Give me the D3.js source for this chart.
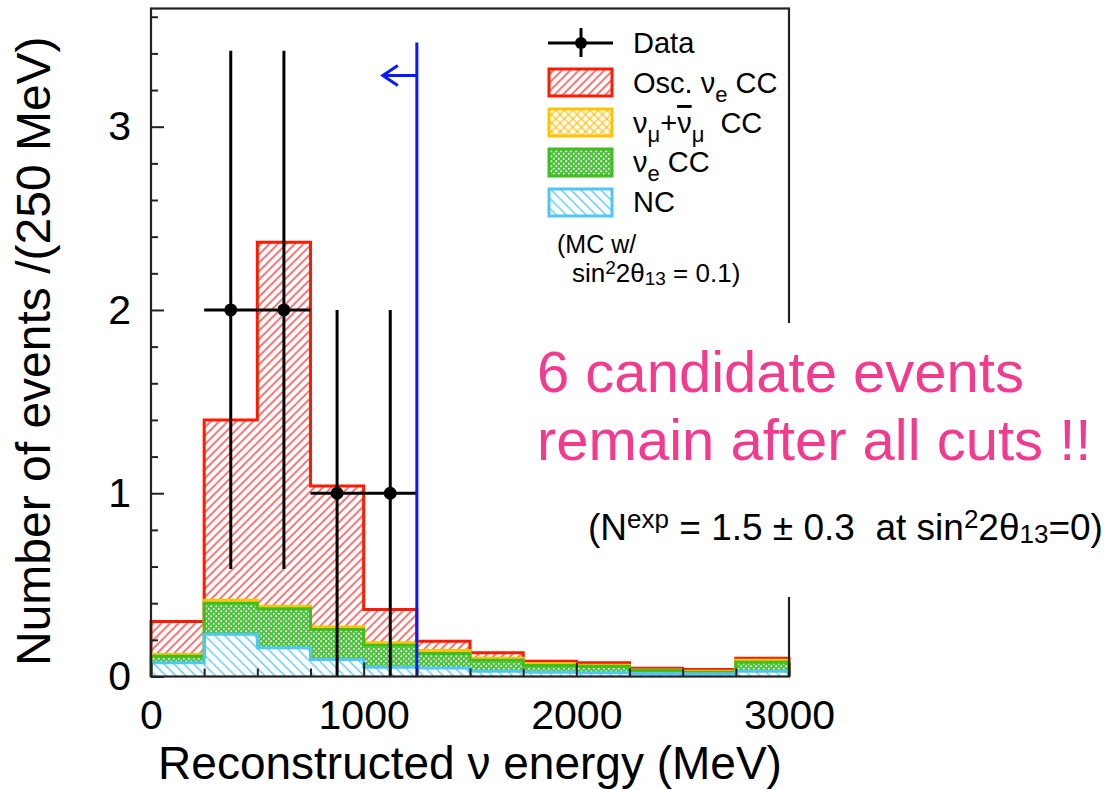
<!DOCTYPE html>
<html>
<head>
<meta charset="utf-8">
<script src="https://cdn.jsdelivr.net/npm/d3@7"></script>
<style>
  html, body { margin: 0; padding: 0; background: #fff; }
  svg { display: block; font-family: "Liberation Sans", Arial, Helvetica, sans-serif; }
</style>
</head>
<body>
<svg id="chart" width="1117" height="790"></svg>
<script>
// ---------------- data ----------------
const binEdges = [0, 250, 500, 750, 1000, 1250, 1500, 1750, 2000, 2250, 2500, 2750, 3000];
const ncValues     = [0.075, 0.230, 0.157, 0.093, 0.050, 0.047, 0.029, 0.023, 0.020, 0.016, 0.015, 0.029];
const nueCCValues  = [0.035, 0.170, 0.213, 0.163, 0.120, 0.078, 0.060, 0.037, 0.036, 0.017, 0.008, 0.049];
const numuCCValues = [0.010, 0.016, 0.014, 0.014, 0.014, 0.017, 0.011, 0.011, 0.006, 0.003, 0.006, 0.011];
const oscNueValues = [0.180, 0.984, 1.986, 0.770, 0.182, 0.051, 0.029, 0.012, 0.013, 0.009, 0.009, 0.011];
const dataCenters  = [375, 625, 875, 1125];
const dataCounts   = [2, 2, 1, 1];
const dataErrors   = [1.414, 1.414, 1, 1];
const dataHalfWidth = 125;
const cutEnergy = 1250, cutTop = 3.46, arrowLevel = 3.28, arrowTip = 1090;
const xTickValues = [0, 1000, 2000, 3000];
const xMinorTicks = [250, 500, 750, 1250, 1500, 1750, 2250, 2500, 2750];
const yTickValues = [0, 1, 2, 3];
const yMinorTicks = [0.2,0.4,0.6,0.8,1.2,1.4,1.6,1.8,2.2,2.4,2.6,2.8,3.2,3.4,3.6];

// ---------------- setup ----------------
const svg = d3.select("#chart");
const W = 1117, H = 790;
const x = d3.scaleLinear().domain([0, 3000]).range([151, 789]);
const y = d3.scaleLinear().domain([0, 3.645]).range([676.5, 8.5]);

const defs = svg.append("defs");
// Osc nu_e CC : red "/" hatch
let p = defs.append("pattern").attr("id","pOsc").attr("patternUnits","userSpaceOnUse")
  .attr("width",6).attr("height",6).attr("patternTransform","rotate(45)");
p.append("rect").attr("width",6).attr("height",6).attr("fill","#fff");
p.append("line").attr("x1",3).attr("y1",-1).attr("x2",3).attr("y2",7).attr("stroke","#ff3b3b").attr("stroke-width",1.4);
// numu CC : yellow crosshatch
p = defs.append("pattern").attr("id","pNumu").attr("patternUnits","userSpaceOnUse")
  .attr("width",6).attr("height",6).attr("patternTransform","rotate(45)");
p.append("rect").attr("width",6).attr("height",6).attr("fill","#fff");
p.append("line").attr("x1",3).attr("y1",-1).attr("x2",3).attr("y2",7).attr("stroke","#ffc21a").attr("stroke-width",1.3);
p.append("line").attr("x1",-1).attr("y1",3).attr("x2",7).attr("y2",3).attr("stroke","#ffc21a").attr("stroke-width",1.3);
// nue CC : green with white dots
p = defs.append("pattern").attr("id","pNue").attr("patternUnits","userSpaceOnUse")
  .attr("width",5).attr("height",5);
p.append("rect").attr("width",5).attr("height",5).attr("fill","#4cc23c");
p.append("circle").attr("cx",1.25).attr("cy",1.25).attr("r",0.95).attr("fill","#fff");
p.append("circle").attr("cx",3.75).attr("cy",3.75).attr("r",0.95).attr("fill","#fff");
// NC : cyan "\" hatch
p = defs.append("pattern").attr("id","pNC").attr("patternUnits","userSpaceOnUse")
  .attr("width",7).attr("height",7).attr("patternTransform","rotate(-45)");
p.append("rect").attr("width",7).attr("height",7).attr("fill","#fff");
p.append("line").attr("x1",3.5).attr("y1",-1).attr("x2",3.5).attr("y2",8).attr("stroke","#5cc8f2").attr("stroke-width",1.4);

// ---------------- stacked histogram ----------------
const layers = [
  {key:"nc",   values: ncValues,     fill:"url(#pNC)",   stroke:"#4fc6f4"},
  {key:"nue",  values: nueCCValues,  fill:"url(#pNue)",  stroke:"#3fbf1f"},
  {key:"numu", values: numuCCValues, fill:"url(#pNumu)", stroke:"#ffc400"},
  {key:"osc",  values: oscNueValues, fill:"url(#pOsc)",  stroke:"#ff1a00"}
];
let cum = binEdges.slice(0,-1).map(() => 0);
layers.forEach(L => {
  L.lo = cum.slice();
  L.hi = cum.map((c,i) => c + L.values[i]);
  cum = L.hi;
});

function bandPath(lo, hi) {
  let d = "M" + x(binEdges[0]) + "," + y(lo[0]);
  for (let i = 0; i < hi.length; i++) {
    d += "V" + y(hi[i]) + "H" + x(binEdges[i+1]);
  }
  for (let i = lo.length - 1; i >= 0; i--) {
    d += "V" + y(lo[i]) + "H" + x(binEdges[i]);
  }
  return d + "Z";
}
function stepPath(hi) {
  let d = "M" + x(binEdges[0]) + "," + y(0);
  for (let i = 0; i < hi.length; i++) {
    d += "V" + y(hi[i]) + "H" + x(binEdges[i+1]);
  }
  return d + "V" + y(0);
}
const histG = svg.append("g");
layers.forEach(L => {
  histG.append("path").attr("d", bandPath(L.lo, L.hi)).attr("fill", L.fill).attr("stroke","none");
});
[...layers].reverse().forEach(L => {
  histG.append("path").attr("d", stepPath(L.hi)).attr("fill","none")
    .attr("stroke", L.stroke).attr("stroke-width", 3);
});

// ---------------- data points ----------------
const dataG = svg.append("g");
dataCenters.forEach((c,i) => {
  const v = dataCounts[i], e = dataErrors[i];
  dataG.append("line").attr("x1", x(c)).attr("x2", x(c))
    .attr("y1", y(Math.max(0, v - e))).attr("y2", y(v + e))
    .attr("stroke","#000").attr("stroke-width",3);
  dataG.append("line").attr("x1", x(c - dataHalfWidth)).attr("x2", x(c + dataHalfWidth))
    .attr("y1", y(v)).attr("y2", y(v)).attr("stroke","#000").attr("stroke-width",3);
  dataG.append("circle").attr("cx", x(c)).attr("cy", y(v)).attr("r", 6.5).attr("fill","#000");
});

// ---------------- cut line + arrow ----------------
svg.append("line").attr("x1", x(cutEnergy)).attr("x2", x(cutEnergy))
  .attr("y1", y(cutTop)).attr("y2", y(0)).attr("stroke","#0a1aff").attr("stroke-width",3);
svg.append("line").attr("x1", x(cutEnergy)).attr("x2", x(arrowTip))
  .attr("y1", y(arrowLevel)).attr("y2", y(arrowLevel)).attr("stroke","#0a1aff").attr("stroke-width",3);
svg.append("path")
  .attr("d", `M${x(arrowTip)+15},${y(arrowLevel)-10}L${x(arrowTip)},${y(arrowLevel)}L${x(arrowTip)+15},${y(arrowLevel)+10}`)
  .attr("fill","none").attr("stroke","#0a1aff").attr("stroke-width",3).attr("stroke-linejoin","miter");

// ---------------- frame & axes ----------------
svg.append("rect").attr("x", x(0)).attr("y", y(3.645)).attr("width", x(3000)-x(0)).attr("height", y(0)-y(3.645))
  .attr("fill","none").attr("stroke","#222").attr("stroke-width",2.2);

const yAxis = svg.append("g").attr("transform", `translate(${x(0)},0)`)
  .call(d3.axisLeft(y).tickValues(yTickValues).tickFormat(d3.format("d")).tickSizeInner(-13).tickSizeOuter(0).tickPadding(20));
const yMinor = svg.append("g").attr("transform", `translate(${x(0)},0)`)
  .call(d3.axisLeft(y).tickValues(yMinorTicks).tickFormat("").tickSizeInner(-7).tickSizeOuter(0));
const xAxis = svg.append("g").attr("transform", `translate(0,${y(0)})`)
  .call(d3.axisBottom(x).tickValues(xTickValues).tickFormat(d3.format("d")).tickSizeInner(-14).tickSizeOuter(0).tickPadding(23));
const xMinor = svg.append("g").attr("transform", `translate(0,${y(0)})`)
  .call(d3.axisBottom(x).tickValues(xMinorTicks).tickFormat("").tickSizeInner(-8).tickSizeOuter(0));
[yAxis, yMinor, xAxis, xMinor].forEach(g => {
  g.select(".domain").remove();
  g.selectAll(".tick line").attr("stroke","#222").attr("stroke-width",2);
  g.selectAll("text").attr("font-size", 41).attr("fill","#000")
    .attr("font-family", '"Liberation Sans", Arial, sans-serif');
});

// axis titles
svg.append("text").attr("x", x(1500)).attr("y", 779).attr("text-anchor","middle")
  .attr("font-size", 46).attr("fill","#000").text("Reconstructed ν energy (MeV)");
svg.append("text").attr("transform", `translate(50,${y(1.775)}) rotate(-90)`).attr("text-anchor","middle")
  .attr("font-size", 48).attr("fill","#000").text("Number of events /(250 MeV)");

// ---------------- legend ----------------
const leg = svg.append("g");
leg.append("line").attr("x1",548).attr("x2",613).attr("y1",43).attr("y2",43).attr("stroke","#000").attr("stroke-width",3);
leg.append("line").attr("x1",581).attr("x2",581).attr("y1",28).attr("y2",57).attr("stroke","#000").attr("stroke-width",3);
leg.append("circle").attr("cx",581).attr("cy",43).attr("r",6).attr("fill","#000");
leg.append("text").attr("x",633).attr("y",53).attr("font-size",29).text("Data");

const boxes = [
  {y0:69,  fill:"url(#pOsc)",  stroke:"#ff1a00"},
  {y0:109, fill:"url(#pNumu)", stroke:"#ffc400"},
  {y0:149, fill:"url(#pNue)",  stroke:"#3fbf1f"},
  {y0:189, fill:"url(#pNC)",   stroke:"#4fc6f4"}
];
boxes.forEach(b => {
  leg.append("rect").attr("x",549).attr("y",b.y0).attr("width",63).attr("height",27)
    .attr("fill",b.fill).attr("stroke",b.stroke).attr("stroke-width",3);
});
let t = leg.append("text").attr("x",633).attr("y",93).attr("font-size",29);
t.append("tspan").text("Osc. ν");
t.append("tspan").attr("dy",9).attr("font-size",22).text("e");
t.append("tspan").attr("dy",-9).text(" CC");

t = leg.append("text").attr("x",633).attr("y",133).attr("font-size",29);
t.append("tspan").text("ν");
t.append("tspan").attr("dy",9).attr("font-size",22).text("μ");
t.append("tspan").attr("dy",-9).text("+");
t.append("tspan").style("text-decoration","overline").text("ν");
t.append("tspan").attr("dy",9).attr("font-size",22).text("μ");
t.append("tspan").attr("dy",-9).text("\u00A0 CC");

t = leg.append("text").attr("x",633).attr("y",172).attr("font-size",29);
t.append("tspan").text("ν");
t.append("tspan").attr("dy",9).attr("font-size",22).text("e");
t.append("tspan").attr("dy",-9).text(" CC");

leg.append("text").attr("x",633).attr("y",212).attr("font-size",29).text("NC");

leg.append("text").attr("x",557).attr("y",253).attr("font-size",25).text("(MC w/");
t = leg.append("text").attr("x",572).attr("y",282).attr("font-size",26);
t.append("tspan").text("sin");
t.append("tspan").attr("dy",-8).attr("font-size",19).text("2");
t.append("tspan").attr("dy",8).text("2θ");
t.append("tspan").attr("dy",3).attr("font-size",19).text("13");
t.append("tspan").attr("dy",-3).text(" = 0.1)");

// ---------------- annotation ----------------
svg.append("rect").attr("x",525).attr("y",323).attr("width",W-525).attr("height",274).attr("fill","#fff");
svg.append("text").attr("x",537).attr("y",392).attr("font-size",58).attr("fill","#f23a8e").text("6 candidate events");
svg.append("text").attr("x",537).attr("y",460).attr("font-size",58).attr("fill","#f23a8e").text("remain after all cuts !!");
t = svg.append("text").attr("x",588).attr("y",540).attr("font-size",37).attr("fill","#000");
t.append("tspan").text("(N");
t.append("tspan").attr("dy",-12).attr("font-size",26).text("exp");
t.append("tspan").attr("dy",12).text(" = 1.5 ± 0.3 \u00A0at sin");
t.append("tspan").attr("dy",-12).attr("font-size",26).text("2");
t.append("tspan").attr("dy",12).text("2θ");
t.append("tspan").attr("dy",3).attr("font-size",26).text("13");
t.append("tspan").attr("dy",-3).text("=0)");
</script>
</body>
</html>
